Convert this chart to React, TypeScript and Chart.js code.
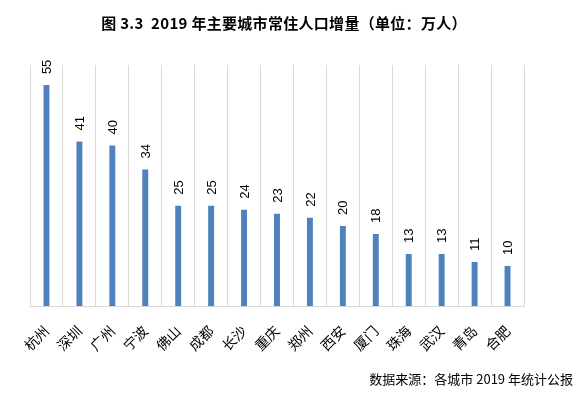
import React, { useEffect, useRef } from "react";
import { Chart, registerables } from "chart.js";

Chart.register(...registerables);

const categories = ["杭州", "深圳", "广州", "宁波", "佛山", "成都", "长沙", "重庆", "郑州", "西安", "厦门", "珠海", "武汉", "青岛", "合肥"];
const values = [55, 41, 40, 34, 25, 25, 24, 23, 22, 20, 18, 13, 13, 11, 10];
const titleText = "图 3.3  2019 年主要城市常住人口增量（单位：万人）";
const sourceText = "数据来源：各城市 2019 年统计公报";

const CJK = '"Noto Sans CJK SC", "Liberation Sans", sans-serif';

const labelsPlugin = {
  id: "barValueLabels",
  afterDatasetsDraw(chart: any) {
    const ctx = chart.ctx;
    const meta = chart.getDatasetMeta(0);
    ctx.save();
    ctx.fillStyle = "#000000";
    ctx.font = '13px "Liberation Sans", Arial, sans-serif';
    ctx.textAlign = "left";
    ctx.textBaseline = "middle";
    meta.data.forEach((bar: any, i: number) => {
      ctx.save();
      ctx.translate(bar.x + 1, bar.y - 11);
      ctx.rotate(-Math.PI / 2);
      ctx.fillText(String(values[i]), 0, 0);
      ctx.restore();
    });
    ctx.restore();
  },
};

const textPlugin = {
  id: "titleAndSource",
  afterDraw(chart: any) {
    const ctx = chart.ctx;
    ctx.save();
    ctx.fillStyle = "#000000";
    ctx.font = "bold 15px " + CJK;
    ctx.textAlign = "center";
    ctx.textBaseline = "middle";
    try { (ctx as any).letterSpacing = "0.3px"; } catch (e) {}
    ctx.fillText(titleText, 284, 23);
    try { (ctx as any).letterSpacing = "0px"; } catch (e) {}
    ctx.font = "13px " + CJK;
    ctx.textAlign = "right";
    ctx.fillText(sourceText, 573, 379);
    ctx.restore();
  },
};

export default function App() {
  const ref = useRef<HTMLCanvasElement | null>(null);
  useEffect(() => {
    if (!ref.current) return;
    const chart = new Chart(ref.current, {
      type: "bar",
      data: {
        labels: categories,
        datasets: [
          {
            data: values,
            backgroundColor: "#4F81BD",
            barPercentage: 0.36,
            categoryPercentage: 0.5,
          },
        ],
      },
      options: {
        animation: false,
        responsive: false,
        maintainAspectRatio: false,
        layout: { padding: { left: 30, right: 63, top: 65, bottom: 23 } },
        plugins: {
          legend: { display: false },
          title: { display: false },
          tooltip: { enabled: false },
        },
        scales: {
          x: {
            grid: { display: true, color: "#D9D9D9", lineWidth: 1, drawTicks: false, offset: true },
            border: { display: true, color: "#D9D9D9" },
            ticks: {
              minRotation: 45,
              maxRotation: 45,
              padding: 16,
              color: "#000000",
              font: { family: CJK, size: 14 },
            },
          },
          y: {
            display: false,
            min: 0,
            max: 60,
          },
        },
      },
      plugins: [labelsPlugin, textPlugin],
    });
    return () => chart.destroy();
  }, []);
  return (
    <div style={{ position: "fixed", left: 0, top: 0, width: 587, height: 393, background: "#fff" }}>
      <canvas ref={ref} width={587} height={393} />
    </div>
  );
}
